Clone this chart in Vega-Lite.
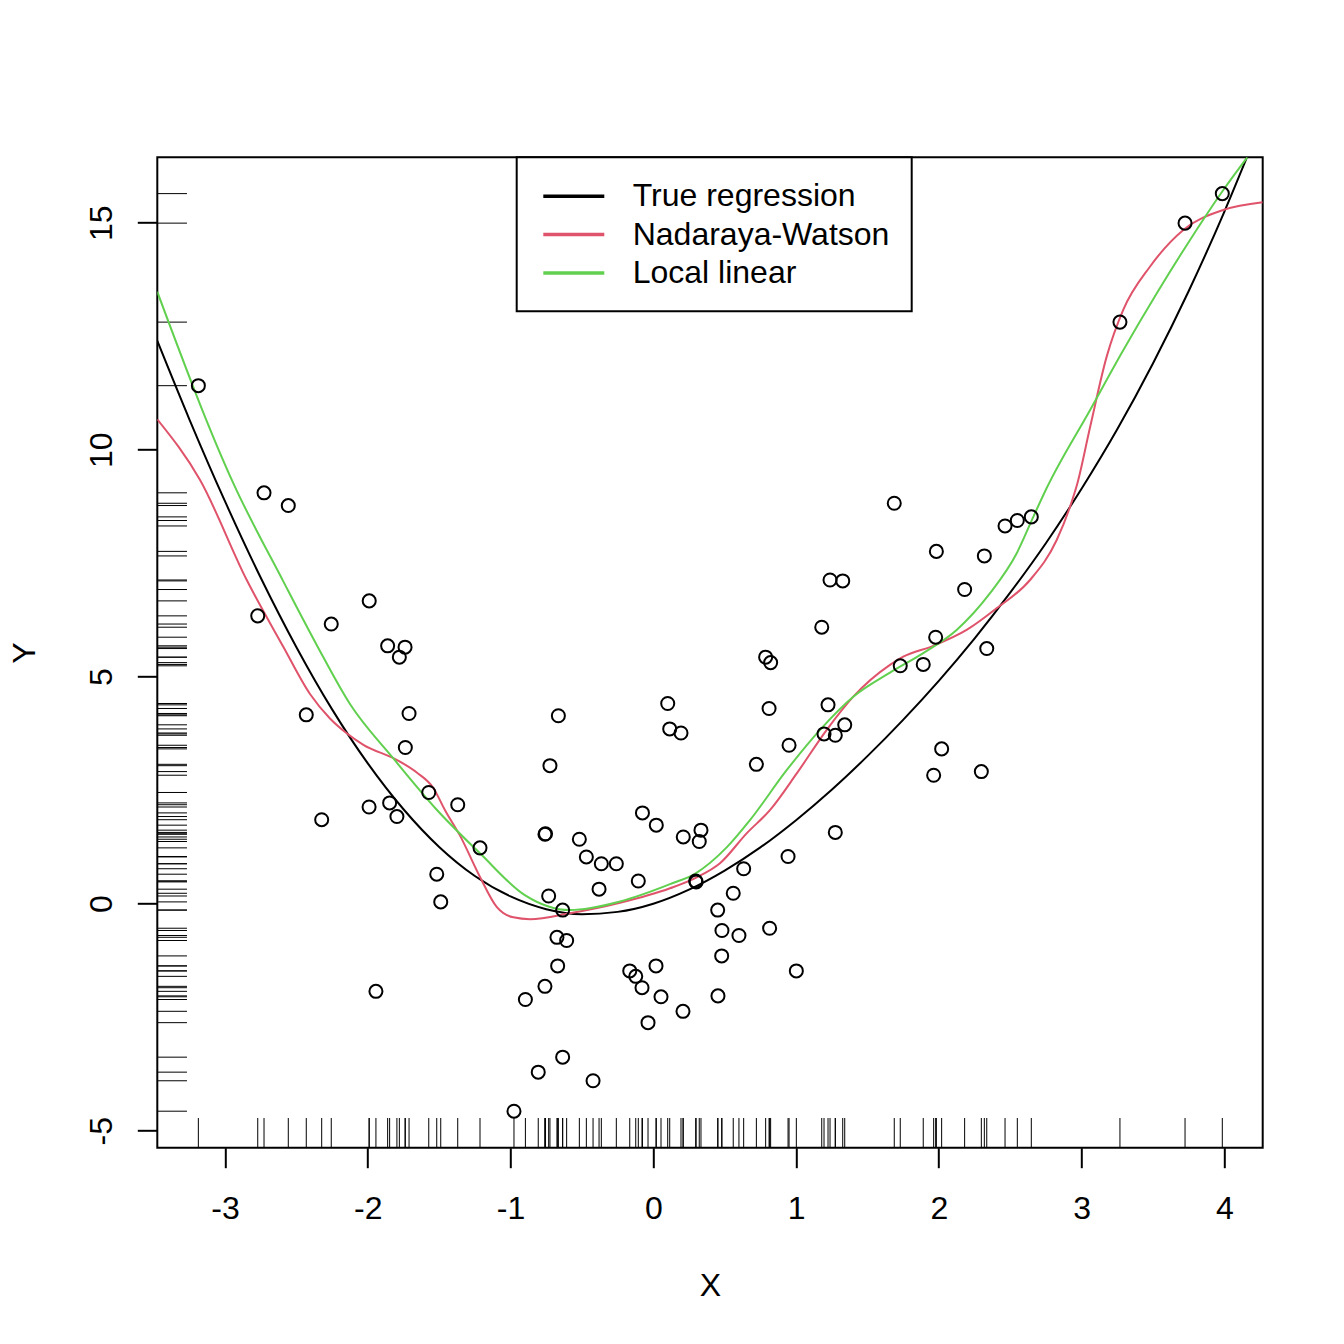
{
  "$schema": "https://vega.github.io/schema/vega-lite/v6.json",
  "width": 1105.4,
  "height": 990.4,
  "autosize": {"type": "none"},
  "padding": {"left": 157.3, "top": 157.3, "right": 81.3, "bottom": 196.3},
  "background": "white",
  "config": {
    "font": "Liberation Sans",
    "view": {"stroke": "black", "strokeWidth": 2},
    "legend": {"strokeWidth": 2},
    "axis": {"grid": false, "domain": false, "tickColor": "black", "tickWidth": 2, "tickSize": 20,
             "labelColor": "black", "labelFont": "Liberation Sans", "labelFontSize": 32,
             "titleColor": "black", "titleFont": "Liberation Sans", "titleFontSize": 32, "titleFontWeight": "normal"}
  },
  "datasets": {
    "pts": [
      {"x": -3.187, "y": 11.41}, {"x": -2.727, "y": 9.05}, {"x": -2.557, "y": 8.77}, {"x": -1.990, "y": 6.67},
      {"x": -2.771, "y": 6.34}, {"x": -2.256, "y": 6.16}, {"x": -1.861, "y": 5.68}, {"x": -1.739, "y": 5.65},
      {"x": -1.779, "y": 5.43}, {"x": -2.431, "y": 4.16}, {"x": -1.711, "y": 4.19}, {"x": -1.737, "y": 3.44},
      {"x": -1.573, "y": 2.45}, {"x": -1.991, "y": 2.13}, {"x": -1.847, "y": 2.22}, {"x": -1.370, "y": 2.18},
      {"x": -1.796, "y": 1.92}, {"x": -2.323, "y": 1.85}, {"x": -1.214, "y": 1.23}, {"x": -1.517, "y": 0.65},
      {"x": -1.489, "y": 0.04}, {"x": -1.943, "y": -1.93}, {"x": -0.896, "y": -2.11}, {"x": -0.976, "y": -4.57},
      {"x": -0.076, "y": 2.00}, {"x": 0.021, "y": 1.73}, {"x": -0.759, "y": 1.53}, {"x": -0.755, "y": 1.54},
      {"x": -0.518, "y": 1.42}, {"x": 0.210, "y": 1.47}, {"x": 0.334, "y": 1.62}, {"x": 0.322, "y": 1.37},
      {"x": 1.275, "y": 1.57}, {"x": -0.469, "y": 1.03}, {"x": -0.364, "y": 0.88}, {"x": -0.259, "y": 0.88},
      {"x": 0.944, "y": 1.04}, {"x": 0.633, "y": 0.77}, {"x": -0.105, "y": 0.50}, {"x": 0.297, "y": 0.50},
      {"x": 0.300, "y": 0.48}, {"x": -0.380, "y": 0.32}, {"x": -0.733, "y": 0.17}, {"x": 0.560, "y": 0.23},
      {"x": -0.635, "y": -0.14}, {"x": 0.451, "y": -0.14}, {"x": -0.675, "y": -0.74}, {"x": -0.607, "y": -0.81},
      {"x": 0.481, "y": -0.59}, {"x": 0.600, "y": -0.70}, {"x": 0.815, "y": -0.54}, {"x": 0.479, "y": -1.15},
      {"x": -0.670, "y": -1.37}, {"x": 1.002, "y": -1.48}, {"x": -0.165, "y": -1.48}, {"x": -0.123, "y": -1.60},
      {"x": 0.019, "y": -1.37}, {"x": -0.079, "y": -1.85}, {"x": -0.759, "y": -1.82}, {"x": 0.054, "y": -2.05},
      {"x": 0.453, "y": -2.03}, {"x": 0.208, "y": -2.37}, {"x": -0.037, "y": -2.62}, {"x": -0.635, "y": -3.38},
      {"x": -0.806, "y": -3.71}, {"x": -0.422, "y": -3.90}, {"x": 1.688, "y": 8.82}, {"x": 1.238, "y": 7.13},
      {"x": 1.327, "y": 7.11}, {"x": 1.180, "y": 6.09}, {"x": 0.787, "y": 5.43}, {"x": 0.822, "y": 5.31},
      {"x": 1.730, "y": 5.24}, {"x": -0.665, "y": 4.14}, {"x": 0.101, "y": 4.41}, {"x": 0.115, "y": 3.85},
      {"x": 0.194, "y": 3.76}, {"x": 0.811, "y": 4.30}, {"x": 1.224, "y": 4.38}, {"x": 1.341, "y": 3.94},
      {"x": 1.196, "y": 3.74}, {"x": 1.275, "y": 3.71}, {"x": 0.951, "y": 3.49}, {"x": -0.724, "y": 3.04},
      {"x": 0.722, "y": 3.07}, {"x": 2.464, "y": 8.32}, {"x": 2.550, "y": 8.44}, {"x": 2.648, "y": 8.52},
      {"x": 1.983, "y": 7.76}, {"x": 2.319, "y": 7.66}, {"x": 2.181, "y": 6.92}, {"x": 1.978, "y": 5.87},
      {"x": 2.336, "y": 5.62}, {"x": 1.891, "y": 5.27}, {"x": 2.020, "y": 3.41}, {"x": 1.964, "y": 2.83},
      {"x": 2.298, "y": 2.91}, {"x": 3.269, "y": 12.81}, {"x": 3.725, "y": 14.99}, {"x": 3.986, "y": 15.64}
    ],
    "curves": [
      {"series": "True regression", "x": -3.475, "y": 12.40}, {"series": "True regression", "x": -3.25, "y": 10.67},
      {"series": "True regression", "x": -3.0, "y": 8.86}, {"series": "True regression", "x": -2.75, "y": 7.18},
      {"series": "True regression", "x": -2.5, "y": 5.65}, {"series": "True regression", "x": -2.25, "y": 4.28},
      {"series": "True regression", "x": -2.0, "y": 3.09}, {"series": "True regression", "x": -1.75, "y": 2.08},
      {"series": "True regression", "x": -1.5, "y": 1.25}, {"series": "True regression", "x": -1.25, "y": 0.61},
      {"series": "True regression", "x": -1.0, "y": 0.16}, {"series": "True regression", "x": -0.75, "y": -0.12},
      {"series": "True regression", "x": -0.5, "y": -0.23}, {"series": "True regression", "x": -0.25, "y": -0.18},
      {"series": "True regression", "x": 0.0, "y": 0.0}, {"series": "True regression", "x": 0.25, "y": 0.31},
      {"series": "True regression", "x": 0.5, "y": 0.73}, {"series": "True regression", "x": 0.75, "y": 1.24},
      {"series": "True regression", "x": 1.0, "y": 1.84}, {"series": "True regression", "x": 1.25, "y": 2.51},
      {"series": "True regression", "x": 1.5, "y": 3.25}, {"series": "True regression", "x": 1.75, "y": 4.05},
      {"series": "True regression", "x": 2.0, "y": 4.91}, {"series": "True regression", "x": 2.25, "y": 5.84},
      {"series": "True regression", "x": 2.5, "y": 6.85}, {"series": "True regression", "x": 2.75, "y": 7.94},
      {"series": "True regression", "x": 3.0, "y": 9.14}, {"series": "True regression", "x": 3.25, "y": 10.45},
      {"series": "True regression", "x": 3.5, "y": 11.90}, {"series": "True regression", "x": 3.75, "y": 13.49},
      {"series": "True regression", "x": 4.0, "y": 15.24}, {"series": "True regression", "x": 4.161, "y": 16.46},

      {"series": "Nadaraya-Watson", "x": -3.475, "y": 10.67}, {"series": "Nadaraya-Watson", "x": -3.175, "y": 9.33},
      {"series": "Nadaraya-Watson", "x": -2.848, "y": 7.13}, {"series": "Nadaraya-Watson", "x": -2.592, "y": 5.66},
      {"series": "Nadaraya-Watson", "x": -2.405, "y": 4.62}, {"series": "Nadaraya-Watson", "x": -2.265, "y": 4.08},
      {"series": "Nadaraya-Watson", "x": -2.150, "y": 3.76}, {"series": "Nadaraya-Watson", "x": -2.031, "y": 3.50},
      {"series": "Nadaraya-Watson", "x": -1.798, "y": 3.17}, {"series": "Nadaraya-Watson", "x": -1.657, "y": 2.89},
      {"series": "Nadaraya-Watson", "x": -1.541, "y": 2.55}, {"series": "Nadaraya-Watson", "x": -1.459, "y": 2.06},
      {"series": "Nadaraya-Watson", "x": -1.354, "y": 1.50}, {"series": "Nadaraya-Watson", "x": -1.214, "y": 0.59},
      {"series": "Nadaraya-Watson", "x": -1.097, "y": -0.07}, {"series": "Nadaraya-Watson", "x": -0.981, "y": -0.30},
      {"series": "Nadaraya-Watson", "x": -0.864, "y": -0.34}, {"series": "Nadaraya-Watson", "x": -0.584, "y": -0.21},
      {"series": "Nadaraya-Watson", "x": -0.233, "y": 0.02}, {"series": "Nadaraya-Watson", "x": 0.117, "y": 0.34},
      {"series": "Nadaraya-Watson", "x": 0.297, "y": 0.57}, {"series": "Nadaraya-Watson", "x": 0.467, "y": 0.89},
      {"series": "Nadaraya-Watson", "x": 0.654, "y": 1.55}, {"series": "Nadaraya-Watson", "x": 0.817, "y": 2.06},
      {"series": "Nadaraya-Watson", "x": 1.005, "y": 2.87}, {"series": "Nadaraya-Watson", "x": 1.215, "y": 3.83},
      {"series": "Nadaraya-Watson", "x": 1.401, "y": 4.56}, {"series": "Nadaraya-Watson", "x": 1.658, "y": 5.26},
      {"series": "Nadaraya-Watson", "x": 1.751, "y": 5.44}, {"series": "Nadaraya-Watson", "x": 1.961, "y": 5.68},
      {"series": "Nadaraya-Watson", "x": 2.195, "y": 6.03}, {"series": "Nadaraya-Watson", "x": 2.406, "y": 6.51},
      {"series": "Nadaraya-Watson", "x": 2.639, "y": 7.13}, {"series": "Nadaraya-Watson", "x": 2.826, "y": 8.01},
      {"series": "Nadaraya-Watson", "x": 2.919, "y": 8.74}, {"series": "Nadaraya-Watson", "x": 2.97, "y": 9.25},
      {"series": "Nadaraya-Watson", "x": 3.06, "y": 10.5}, {"series": "Nadaraya-Watson", "x": 3.176, "y": 12.05},
      {"series": "Nadaraya-Watson", "x": 3.292, "y": 13.08}, {"series": "Nadaraya-Watson", "x": 3.479, "y": 14.03},
      {"series": "Nadaraya-Watson", "x": 3.713, "y": 14.84}, {"series": "Nadaraya-Watson", "x": 3.993, "y": 15.28},
      {"series": "Nadaraya-Watson", "x": 4.269, "y": 15.45},

      {"series": "Local linear", "x": -3.475, "y": 13.48}, {"series": "Local linear", "x": -2.936, "y": 9.22},
      {"series": "Local linear", "x": -2.592, "y": 7.10}, {"series": "Local linear", "x": -2.358, "y": 5.70},
      {"series": "Local linear", "x": -2.125, "y": 4.40}, {"series": "Local linear", "x": -1.821, "y": 3.20},
      {"series": "Local linear", "x": -1.517, "y": 2.07}, {"series": "Local linear", "x": -1.214, "y": 1.11},
      {"series": "Local linear", "x": -0.9, "y": 0.19}, {"series": "Local linear", "x": -0.584, "y": -0.14},
      {"series": "Local linear", "x": -0.233, "y": 0.05}, {"series": "Local linear", "x": 0.117, "y": 0.43},
      {"series": "Local linear", "x": 0.297, "y": 0.67}, {"series": "Local linear", "x": 0.514, "y": 1.24},
      {"series": "Local linear", "x": 0.677, "y": 1.84}, {"series": "Local linear", "x": 0.934, "y": 2.94},
      {"series": "Local linear", "x": 1.168, "y": 3.83}, {"series": "Local linear", "x": 1.401, "y": 4.56},
      {"series": "Local linear", "x": 1.658, "y": 5.09}, {"series": "Local linear", "x": 1.891, "y": 5.52},
      {"series": "Local linear", "x": 2.125, "y": 6.03}, {"series": "Local linear", "x": 2.359, "y": 6.84},
      {"series": "Local linear", "x": 2.546, "y": 7.72}, {"series": "Local linear", "x": 2.662, "y": 8.52},
      {"series": "Local linear", "x": 2.755, "y": 9.15}, {"series": "Local linear", "x": 3.059, "y": 10.87},
      {"series": "Local linear", "x": 3.292, "y": 12.19}, {"series": "Local linear", "x": 3.526, "y": 13.44},
      {"series": "Local linear", "x": 3.760, "y": 14.62}, {"series": "Local linear", "x": 3.993, "y": 15.72},
      {"series": "Local linear", "x": 4.161, "y": 16.44}
    ]
  },
  "encoding": {
    "x": {"field": "x", "type": "quantitative",
          "scale": {"domain": [-3.4746, 4.269], "nice": false, "zero": false},
          "axis": {"values": [-3, -2, -1, 0, 1, 2, 3, 4], "title": "X", "labelExpr": "'' + datum.value",
                   "labelBaseline": "alphabetic", "labelPadding": 50.6,
                   "titleBaseline": "alphabetic", "titleX": 552.7, "titleY": 147.3, "titleAlign": "center"}},
    "y": {"field": "y", "type": "quantitative",
          "scale": {"domain": [-5.374, 16.44], "nice": false, "zero": false},
          "axis": {"values": [-5, 0, 5, 10, 15], "title": "Y", "labelExpr": "'' + datum.value",
                   "labelAngle": 270, "labelAlign": "center", "labelBaseline": "alphabetic",
                   "labelPadding": 25.6, "titleAngle": 270, "titleBaseline": "alphabetic", "titleAlign": "center",
                   "titleX": -123.3, "titleY": 495.2}}
  },
  "layer": [
    {
      "data": {"name": "pts"},
      "mark": {"type": "rule", "color": "black", "strokeWidth": 1},
      "encoding": {"y": {"datum": -5.374}, "y2": {"datum": -4.72}}
    },
    {
      "data": {"name": "pts"},
      "mark": {"type": "rule", "color": "black", "strokeWidth": 1},
      "encoding": {"x": {"datum": -3.4746}, "x2": {"datum": -3.2666}}
    },
    {
      "data": {"name": "curves"},
      "mark": {"type": "line", "strokeWidth": 2, "interpolate": "monotone", "clip": true},
      "encoding": {
        "color": {"field": "series", "type": "nominal",
                  "scale": {"domain": ["True regression", "Nadaraya-Watson", "Local linear"], "range": ["#000000", "#DF536B", "#61D04F"]},
                  "legend": {"orient": "none", "legendX": 359.4, "legendY": 0, "title": null,
                             "symbolType": "M-2,0H2", "symbolSize": 930.25, "symbolStrokeWidth": 3.5,
                             "symbolOffset": 18.1, "labelOffset": 41.9, "rowPadding": 5.3, "padding": 22,
                             "labelFontSize": 32, "labelFont": "Liberation Sans", "labelColor": "black", "labelLimit": 0,
                             "strokeColor": "black", "fillColor": "white"}}
      }
    },
    {
      "data": {"name": "pts"},
      "mark": {"type": "point", "shape": "circle", "filled": false, "size": 170, "strokeWidth": 2, "color": "black", "opacity": 1}
    }
  ]
}
